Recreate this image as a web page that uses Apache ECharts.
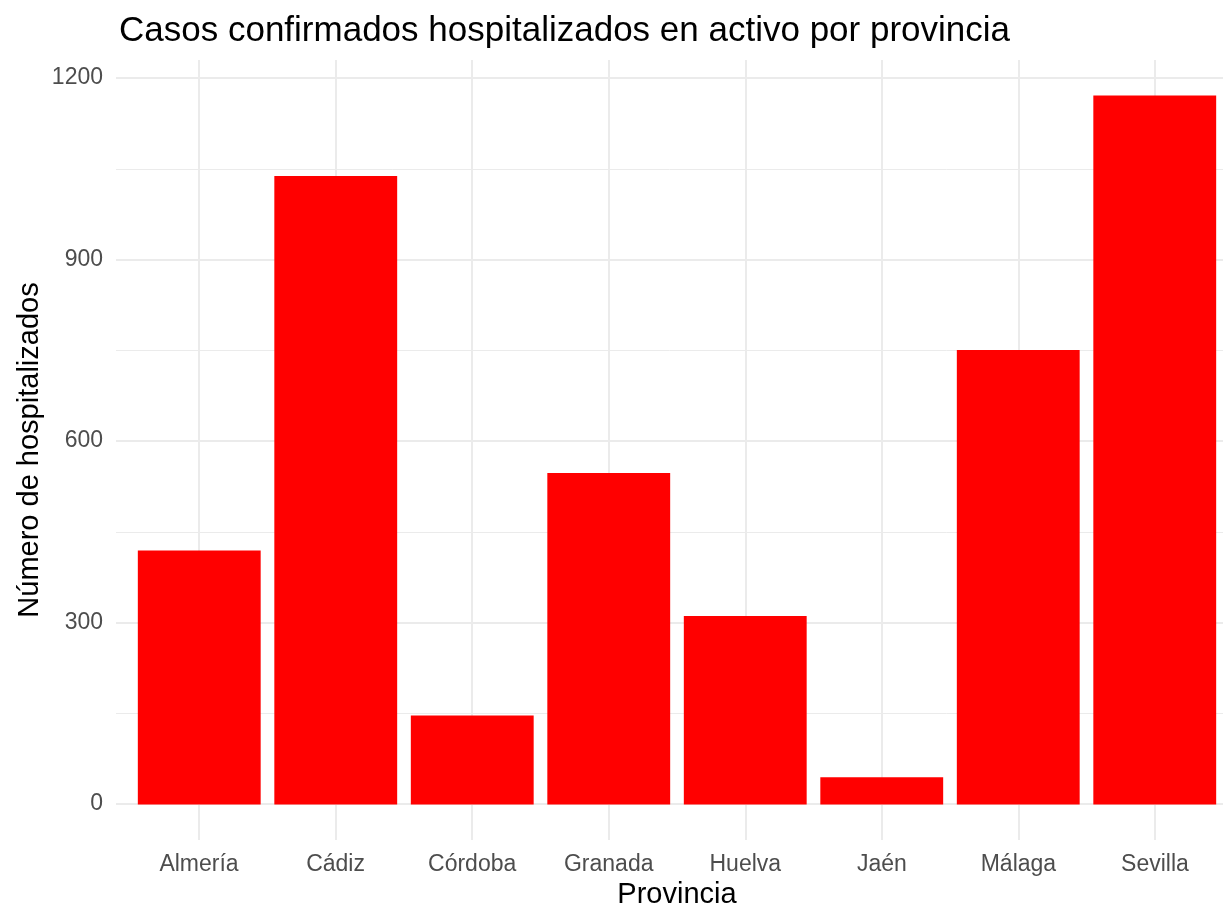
<!DOCTYPE html>
<html>
<head>
<meta charset="utf-8">
<script src="https://cdn.jsdelivr.net/npm/echarts@6/dist/echarts.min.js"></script>
<style>
  html, body { margin: 0; padding: 0; background: #ffffff; }
  #chart { width: 1223px; height: 907px; }
</style>
</head>
<body>
<div id="chart"></div>
<script>
const categories = ['Almería', 'Cádiz', 'Córdoba', 'Granada', 'Huelva', 'Jaén', 'Málaga', 'Sevilla'];
const hospitalizados = [419, 1037, 147, 547, 311, 45, 750, 1170];
const yTicks = [0, 300, 600, 900, 1200];

const FONT = '"Liberation Sans", Arial, sans-serif';
const GRID_COLOR = '#EBEBEB';
const TEXT_GRAY = '#4D4D4D';

const yMin = -58.5, yMax = 1228.5;

const chart = echarts.init(document.getElementById('chart'), null, { renderer: 'canvas' });
chart.setOption({
  animation: false,
  backgroundColor: '#ffffff',
  title: {
    text: 'Casos confirmados hospitalizados en activo por provincia',
    left: 114,
    top: 9,
    textStyle: { fontFamily: FONT, fontSize: 35, fontWeight: 'normal', color: '#000000' }
  },
  grid: [
    { left: 116, right: 0, top: 78, bottom: 103 },   // horizontal grid + y labels
    { left: 131, right: 0, top: 60, bottom: 67 },    // bars
    { left: 199, right: 68, top: 60, bottom: 67 }    // vertical grid + x labels
  ],
  xAxis: [
    { gridIndex: 0, type: 'value', min: 0, max: 1, show: false },
    { gridIndex: 1, type: 'category', data: categories, boundaryGap: true, show: false },
    {
      gridIndex: 2, type: 'category', data: categories, boundaryGap: false,
      axisLine: { show: false }, axisTick: { show: false },
      axisLabel: { color: TEXT_GRAY, fontFamily: FONT, fontSize: 23, margin: 13, interval: 0 },
      splitLine: { show: true, lineStyle: { color: GRID_COLOR, width: 2 } }
    }
  ],
  yAxis: [
    {
      gridIndex: 0, type: 'value', min: yTicks[0], max: yTicks[yTicks.length - 1], interval: 300,
      axisLine: { show: false }, axisTick: { show: false },
      axisLabel: { color: TEXT_GRAY, fontFamily: FONT, fontSize: 23, margin: 13,
                   padding: [6, 0, 0, 0], formatter: function (v) { return String(v); } },
      splitLine: { show: true, lineStyle: { color: GRID_COLOR, width: 2 } },
      minorTick: { show: false, splitNumber: 2 },
      minorSplitLine: { show: true, lineStyle: { color: GRID_COLOR, width: 1 } }
    },
    { gridIndex: 1, type: 'value', min: yMin, max: yMax, show: false, splitLine: { show: false } },
    { gridIndex: 2, type: 'value', min: yMin, max: yMax, show: false, splitLine: { show: false } }
  ],
  graphic: [
    {
      type: 'text', x: 30, y: 450, rotation: Math.PI / 2,
      style: { text: 'Número de hospitalizados', font: '29px ' + FONT, fill: '#000000',
               textAlign: 'center', textVerticalAlign: 'middle' }
    },
    {
      type: 'text', x: 677, y: 895,
      style: { text: 'Provincia', font: '29px ' + FONT, fill: '#000000',
               textAlign: 'center', textVerticalAlign: 'middle' }
    }
  ],
  series: [
    { type: 'line', xAxisIndex: 0, yAxisIndex: 0, data: [], silent: true },
    { type: 'line', xAxisIndex: 2, yAxisIndex: 2, data: [], silent: true },
    {
      type: 'bar', xAxisIndex: 1, yAxisIndex: 1,
      data: hospitalizados,
      barWidth: '90%',
      itemStyle: { color: '#FF0000' },
      z: 3
    }
  ]
});
</script>
</body>
</html>
